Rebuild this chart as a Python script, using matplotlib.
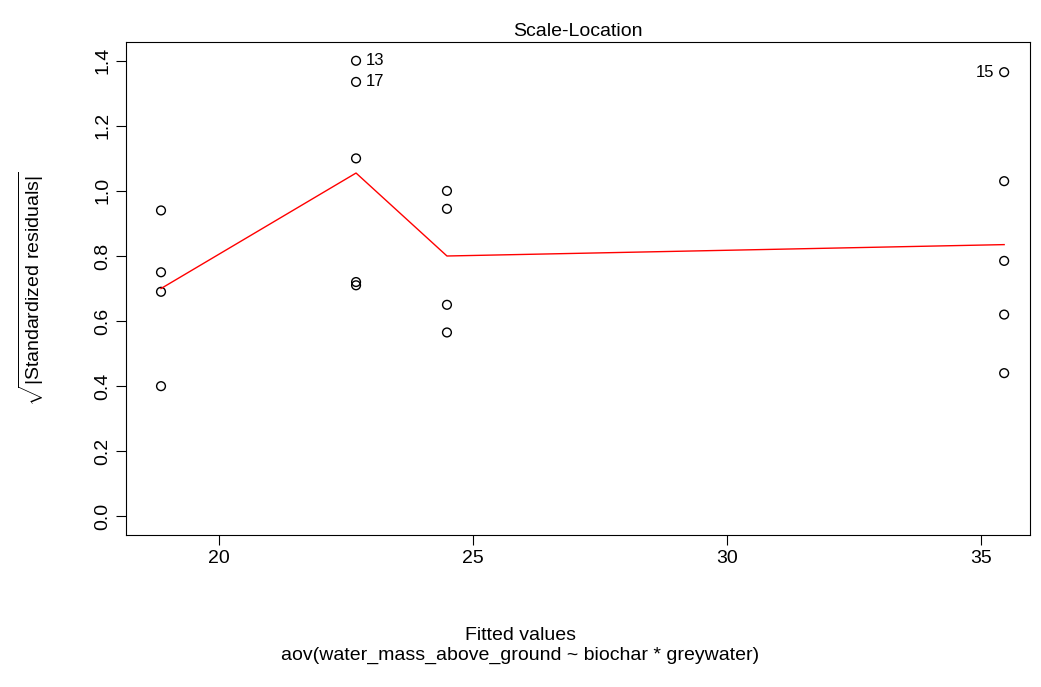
import matplotlib.pyplot as plt

plt.rcParams['font.family'] = ['Liberation Sans', 'DejaVu Sans']
plt.rcParams['mathtext.fontset'] = 'custom'
plt.rcParams['mathtext.rm'] = 'Liberation Sans'

fitted = [18.86, 18.86, 18.86, 18.86,
          22.70, 22.70, 22.70, 22.70, 22.70,
          24.49, 24.49, 24.49, 24.49,
          35.46, 35.46, 35.46, 35.46, 35.46]
sqrt_resid = [0.94, 0.75, 0.69, 0.40,
              1.40, 1.335, 1.10, 0.72, 0.71,
              1.00, 0.945, 0.65, 0.565,
              1.365, 1.03, 0.785, 0.62, 0.44]
smooth_x = [18.86, 22.70, 24.49, 35.46]
smooth_y = [0.70, 1.055, 0.80, 0.835]
labels = {'13': (22.70, 1.40), '17': (22.70, 1.335), '15': (35.46, 1.365)}

fig = plt.figure(figsize=(10.41, 6.87), dpi=100)
ax = fig.add_axes([0.121, 0.221, 0.868, 0.718])
ax.scatter(fitted, sqrt_resid, s=40, facecolors='none', edgecolors='black', linewidths=1)
ax.plot(smooth_x, smooth_y, color='red', lw=1)
for name, (x, y) in labels.items():
    if name == '15':
        ax.text(x - 0.2, y, name, ha='right', va='center', fontsize=12)
    else:
        ax.text(x + 0.2, y, name, ha='left', va='center', fontsize=12)

ax.set_xlim(18.17, 35.96)
ax.set_ylim(-0.058, 1.458)
ax.set_xticks([20, 25, 30, 35])
ax.set_yticks([0.0, 0.2, 0.4, 0.6, 0.8, 1.0, 1.2, 1.4])
ax.set_yticklabels(['0.0', '0.2', '0.4', '0.6', '0.8', '1.0', '1.2', '1.4'], rotation=90, va='center')
ax.tick_params(labelsize=14, length=7)
ax.set_title('Scale-Location', fontsize=14, pad=4)
ax.set_ylabel(r'$\sqrt{|\mathrm{Standardized\ residuals}|}$', fontsize=14)
ax.yaxis.set_label_coords(-0.088, 0.5)
fig.text(0.5, 0.06, 'Fitted values\naov(water_mass_above_ground ~ biochar * greywater)',
         ha='center', va='center', fontsize=14)

fig.savefig('out.png')
